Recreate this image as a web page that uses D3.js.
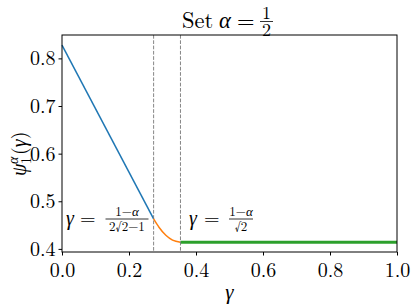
<!DOCTYPE html>
<html><head><meta charset="utf-8">
<script src="https://cdn.jsdelivr.net/npm/d3@7"></script>
</head>
<body style="margin:0;background:#fff"><svg id="c" width="415" height="306"></svg>
<script>
const xTicks=[0,0.2,0.4,0.6,0.8,1.0];
const yTicks=[0.4,0.5,0.6,0.7,0.8];
const bluePts=[[0,0.828],[0.2735,0.463]];
const orangePts=[[0.2735,0.463],[0.29,0.445],[0.31,0.4286],[0.33,0.4184],[0.3536,0.4142]];
const greenPts=[[0.3536,0.4142],[1.0,0.4142]];
const vLines=[0.2735,0.3536];

const FF='"Latin Modern Roman","Liberation Serif",serif';
const GF='"Liberation Serif",serif';
const svg=d3.select("#c");
const m={l:62,r:397,t:35,b:252};
const x=d3.scaleLinear().domain([0,1]).range([m.l,m.r]);
const y=d3.scaleLinear().domain([0.3935,0.8491]).range([m.b,m.t]);

const line=d3.line().x(d=>x(d[0])).y(d=>y(d[1]));
const g=svg.append("g");
g.append("path").datum(bluePts).attr("d",line).attr("fill","none").attr("stroke","#1f77b4").attr("stroke-width",1.5);
g.append("path").datum(orangePts).attr("d",d3.line().x(d=>x(d[0])).y(d=>y(d[1])).curve(d3.curveMonotoneX)).attr("fill","none").attr("stroke","#ff7f0e").attr("stroke-width",1.5);
g.append("path").datum(greenPts).attr("d",line).attr("fill","none").attr("stroke","#2ca02c").attr("stroke-width",3);
vLines.forEach(v=>{
  g.append("line").attr("x1",x(v)).attr("x2",x(v)).attr("y1",m.t).attr("y2",m.b)
   .attr("stroke","#777").attr("stroke-width",0.9).attr("stroke-dasharray","3.7,1.6");
});

svg.append("rect").attr("x",m.l).attr("y",m.t).attr("width",m.r-m.l).attr("height",m.b-m.t)
  .attr("fill","none").attr("stroke","#000").attr("stroke-width",1);

const xa=svg.append("g").attr("transform",`translate(0,${m.b})`)
  .call(d3.axisBottom(x).tickValues(xTicks).tickFormat(d3.format(".1f")).tickSize(3.5).tickPadding(3));
const ya=svg.append("g").attr("transform",`translate(${m.l},0)`)
  .call(d3.axisLeft(y).tickValues(yTicks).tickFormat(d3.format(".1f")).tickSize(3.5).tickPadding(3));
[xa,ya].forEach(a=>{a.select(".domain").remove();a.attr("font-family",null).attr("font-size",null);
  a.selectAll("text").style("font-family",FF).style("font-size","20px").attr("fill","#000");
  a.selectAll("line").attr("stroke","#000");});
xa.selectAll("text").attr("dy","0.9em");
ya.selectAll("text").attr("dy","0.33em");

function T(xx,yy,fs,html,anchor,parent){
  return (parent||svg).append("text").attr("x",xx).attr("y",yy).attr("text-anchor",anchor||"start")
    .style("font-family",FF).style("font-size",fs+"px").attr("fill","#000").html(html);
}
const I=s=>`<tspan font-style="italic" font-family='${GF}' style="font-family:${GF}">${s}</tspan>`;
function frac(cx,barY,num,den,fs,w,up,down){
  T(cx,barY-up,fs,num,"middle");
  T(cx,barY+down,fs,den,"middle");
  svg.append("line").attr("x1",cx-w/2).attr("x2",cx+w/2).attr("y1",barY).attr("y2",barY).attr("stroke","#000").attr("stroke-width",0.8);
}

// title
T(182,28,22.5,"Set");
T(219,28,22.5,I("α"));
T(237,28,22.5,"=");
frac(266.5,21.5,"1","2",18,13,2.5,14);

// x label
T(229.5,299,21,I("γ"),"middle");
// y label (rotated)
const yl=svg.append("g").attr("transform","translate(26,148) rotate(-90)");
T(-28,0,20,I("ψ"),"start",yl);
T(-16,-8,14,I("α"),"start",yl);
T(-16,5,14,"1","start",yl);
T(-7,0,20,`(${I("γ")})`,"start",yl);

// annotations
T(66,225,20,I("γ"));
T(80,225,20,"=");
frac(127,219,`1−${I("α")}`,"2√2−1",13,43,3,11.5);
T(189,225,20,I("γ"));
T(204,225,20,"=");
frac(241,219,`1−${I("α")}`,"√2",13,24,3,11.5);
</script></body></html>
